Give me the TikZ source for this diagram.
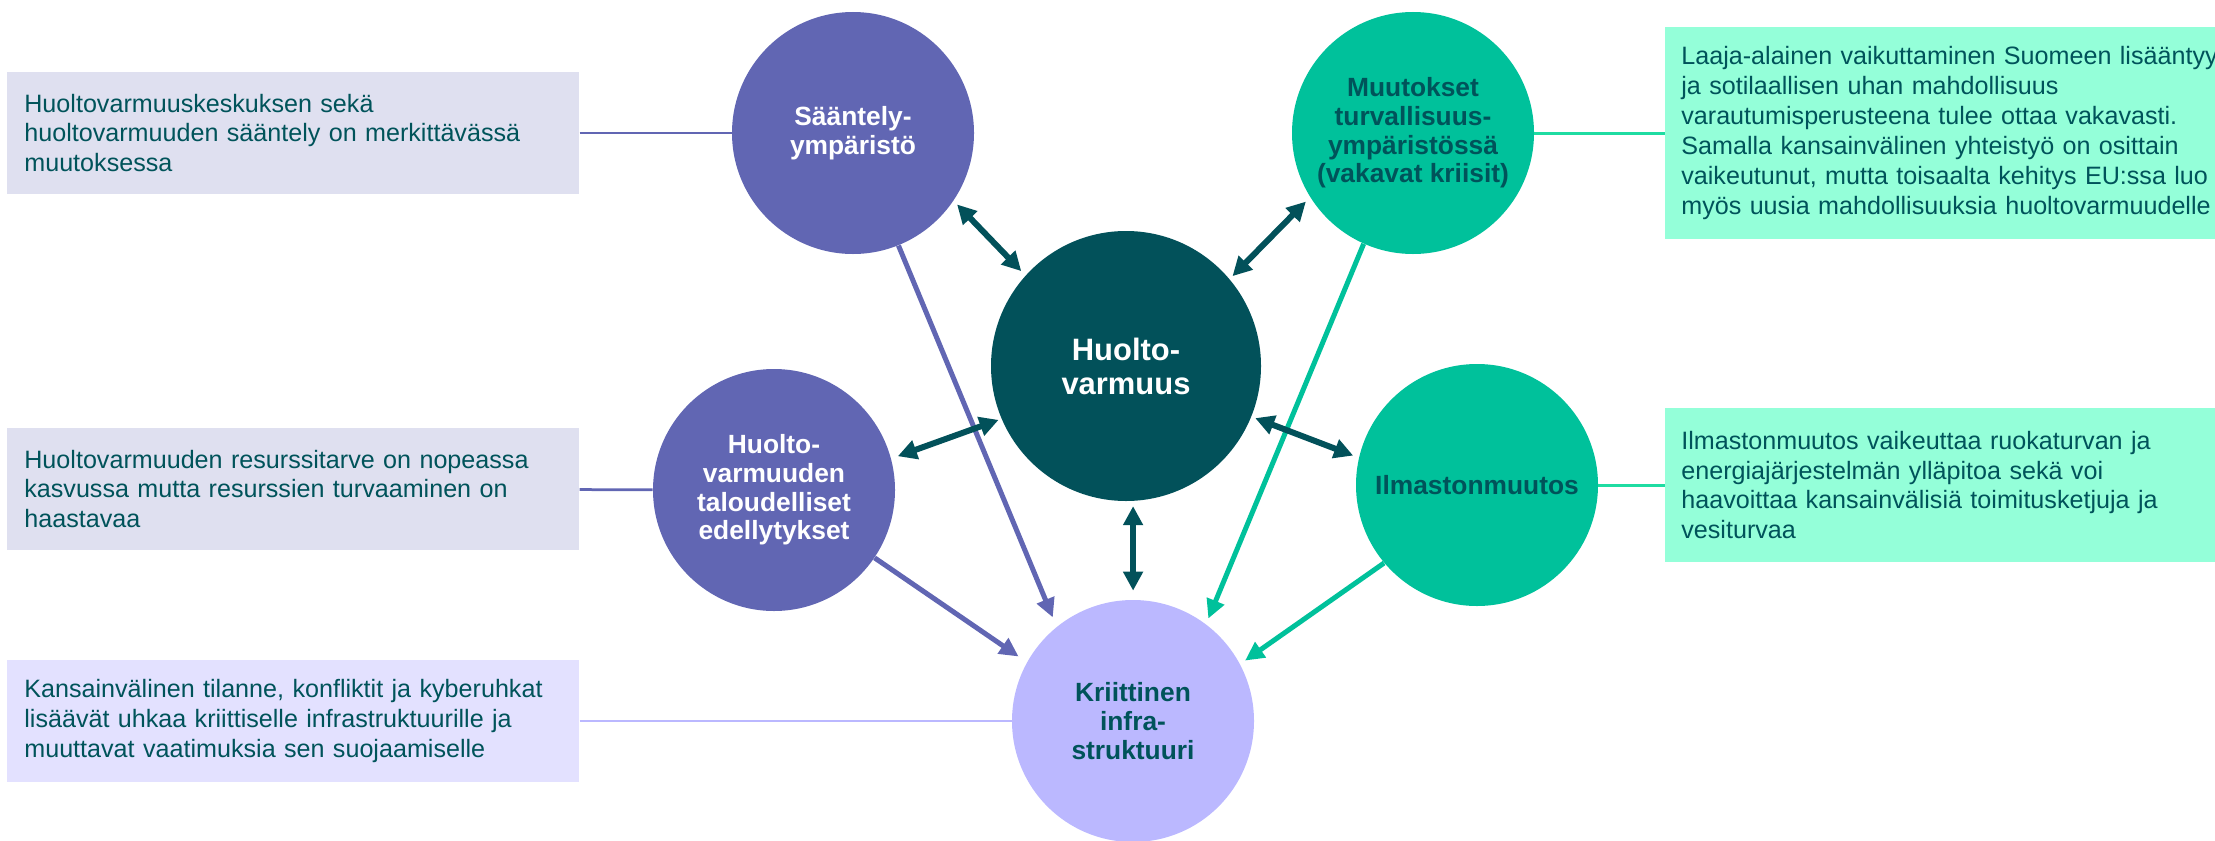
\documentclass[tikz,border=0pt]{standalone}
\usepackage{fontspec}
\setmainfont{Liberation Sans}
\usetikzlibrary{arrows.meta}

\definecolor{hvpurple}{HTML}{6166B3}
\definecolor{hvteal}{HTML}{00C19B}
\definecolor{hvline}{HTML}{1FDCA2}
\definecolor{hvdark}{HTML}{02515A}
\definecolor{hvlilac}{HTML}{BBB8FF}
\definecolor{hvtext}{HTML}{00535A}
\definecolor{boxgrey}{HTML}{DFE0F0}
\definecolor{boxlilac}{HTML}{E3E1FF}
\definecolor{boxmint}{HTML}{94FFD9}

\begin{document}
\begin{tikzpicture}[x=0.2mm,y=-0.2mm,
        ball/.style={circle,inner sep=0pt,minimum size=48.4mm,align=center,font=\bfseries\fontsize{15}{16.3}\selectfont},
        infobox/.style={rectangle,anchor=west,align=left,text=hvtext,inner ysep=0pt,font=\fontsize{14.3}{17}\selectfont},
        leftbox/.style={infobox,text width=107.6mm,inner xsep=3.4mm,minimum height=24.4mm},
        rightbox/.style={infobox,text width=120mm,inner xsep=3.2mm},
        twoway/.style={{Triangle[length=3.8mm,width=3.8mm]}-{Triangle[length=3.8mm,width=3.8mm]},line width=1.2mm,hvdark},
        oneway/.style={-{Triangle[length=3.8mm,width=3.6mm]},line width=1mm}]
    \useasboundingbox (0,0) rectangle (2215,841);
    % circles
    \node[ball,fill=hvpurple,text=white] (saent) at (853,133) {Sääntely-\\ympäristö};
    \node[ball,fill=hvteal,text=hvtext] (muut) at (1413,133) {Muutokset\\turvallisuus-\\ympäristössä\\(vakavat kriisit)};
    \node[ball,fill=hvdark,text=white,minimum size=54mm,font=\bfseries\fontsize{17.6}{19.3}\selectfont] (huolto) at (1126,366) {Huolto-\\varmuus};
    \node[ball,fill=hvpurple,text=white] (talous) at (774,490) {Huolto-\\varmuuden\\taloudelliset\\edellytykset};
    \node[ball,fill=hvteal,text=hvtext] (ilmasto) at (1477,485) {Ilmastonmuutos};
    \node[ball,fill=hvlilac,text=hvtext] (kriitt) at (1133,721) {Kriittinen\\infra-\\struktuuri};
    % text boxes
    \node[leftbox,fill=boxgrey] (saentbox) at (7,133) {Huoltovarmuuskeskuksen sekä\\huoltovarmuuden sääntely on merkittävässä\\muutoksessa};
    \node[leftbox,fill=boxgrey] (talousbox) at (7,489) {Huoltovarmuuden resurssitarve on nopeassa\\kasvussa mutta resurssien turvaaminen on\\haastavaa};
    \node[leftbox,fill=boxlilac] (kriittbox) at (7,721) {Kansainvälinen tilanne, konfliktit ja kyberuhkat\\lisäävät uhkaa kriittiselle infrastruktuurille ja\\muuttavat vaatimuksia sen suojaamiselle};
    \node[rightbox,fill=boxmint,minimum height=42.4mm] (muutbox) at (1665,133) {Laaja-alainen vaikuttaminen Suomeen lisääntyy\\ja sotilaallisen uhan mahdollisuus\\varautumisperusteena tulee ottaa vakavasti.\\Samalla kansainvälinen yhteistyö on osittain\\vaikeutunut, mutta toisaalta kehitys EU:ssa luo\\myös uusia mahdollisuuksia huoltovarmuudelle};
    \node[rightbox,fill=boxmint,minimum height=30.8mm] (ilmastobox) at (1665,485) {Ilmastonmuutos vaikeuttaa ruokaturvan ja\\energiajärjestelmän ylläpitoa sekä voi\\haavoittaa kansainvälisiä toimitusketjuja ja\\vesiturvaa};
    % box connectors
    \draw[hvpurple,line width=0.55mm] (saentbox) -- (saent);
    \draw[hvpurple,line width=0.55mm] (talousbox) -- (talous);
    \draw[hvlilac,line width=0.55mm] (kriittbox) -- (kriitt);
    \draw[hvline,line width=0.6mm] (muut) -- (muutbox);
    \draw[hvline,line width=0.6mm] (ilmasto) -- (ilmastobox);
    % influences on infrastructure
    \draw[oneway,hvpurple,shorten >=2mm] (saent.-68) -- (kriitt.129);
    \draw[oneway,hvpurple,shorten >=2mm] (talous.-34) -- (kriitt.151);
    \draw[oneway,hvteal,shorten >=1.2mm] (muut.-114) -- (kriitt.53);
    \draw[oneway,hvteal,shorten >=1.2mm] (ilmasto.-140) -- (kriitt.28);
    % two-way links
    \draw[twoway,shorten <=1mm,shorten >=1.2mm] (saent.-34) -- (huolto.138);
    \draw[twoway,shorten <=1.2mm,shorten >=0.8mm] (muut.-148) -- (huolto.40);
    \draw[twoway,shorten <=1.4mm,shorten >=0.6mm] (talous.15) -- (huolto.-157);
    \draw[twoway,shorten <=0.8mm,shorten >=1.2mm] (huolto.-22) -- (ilmasto.167);
    \draw[twoway,shorten <=1mm,shorten >=1.8mm] (huolto.-87) -- (huolto.-87 |- kriitt.north);
\end{tikzpicture}
\end{document}
